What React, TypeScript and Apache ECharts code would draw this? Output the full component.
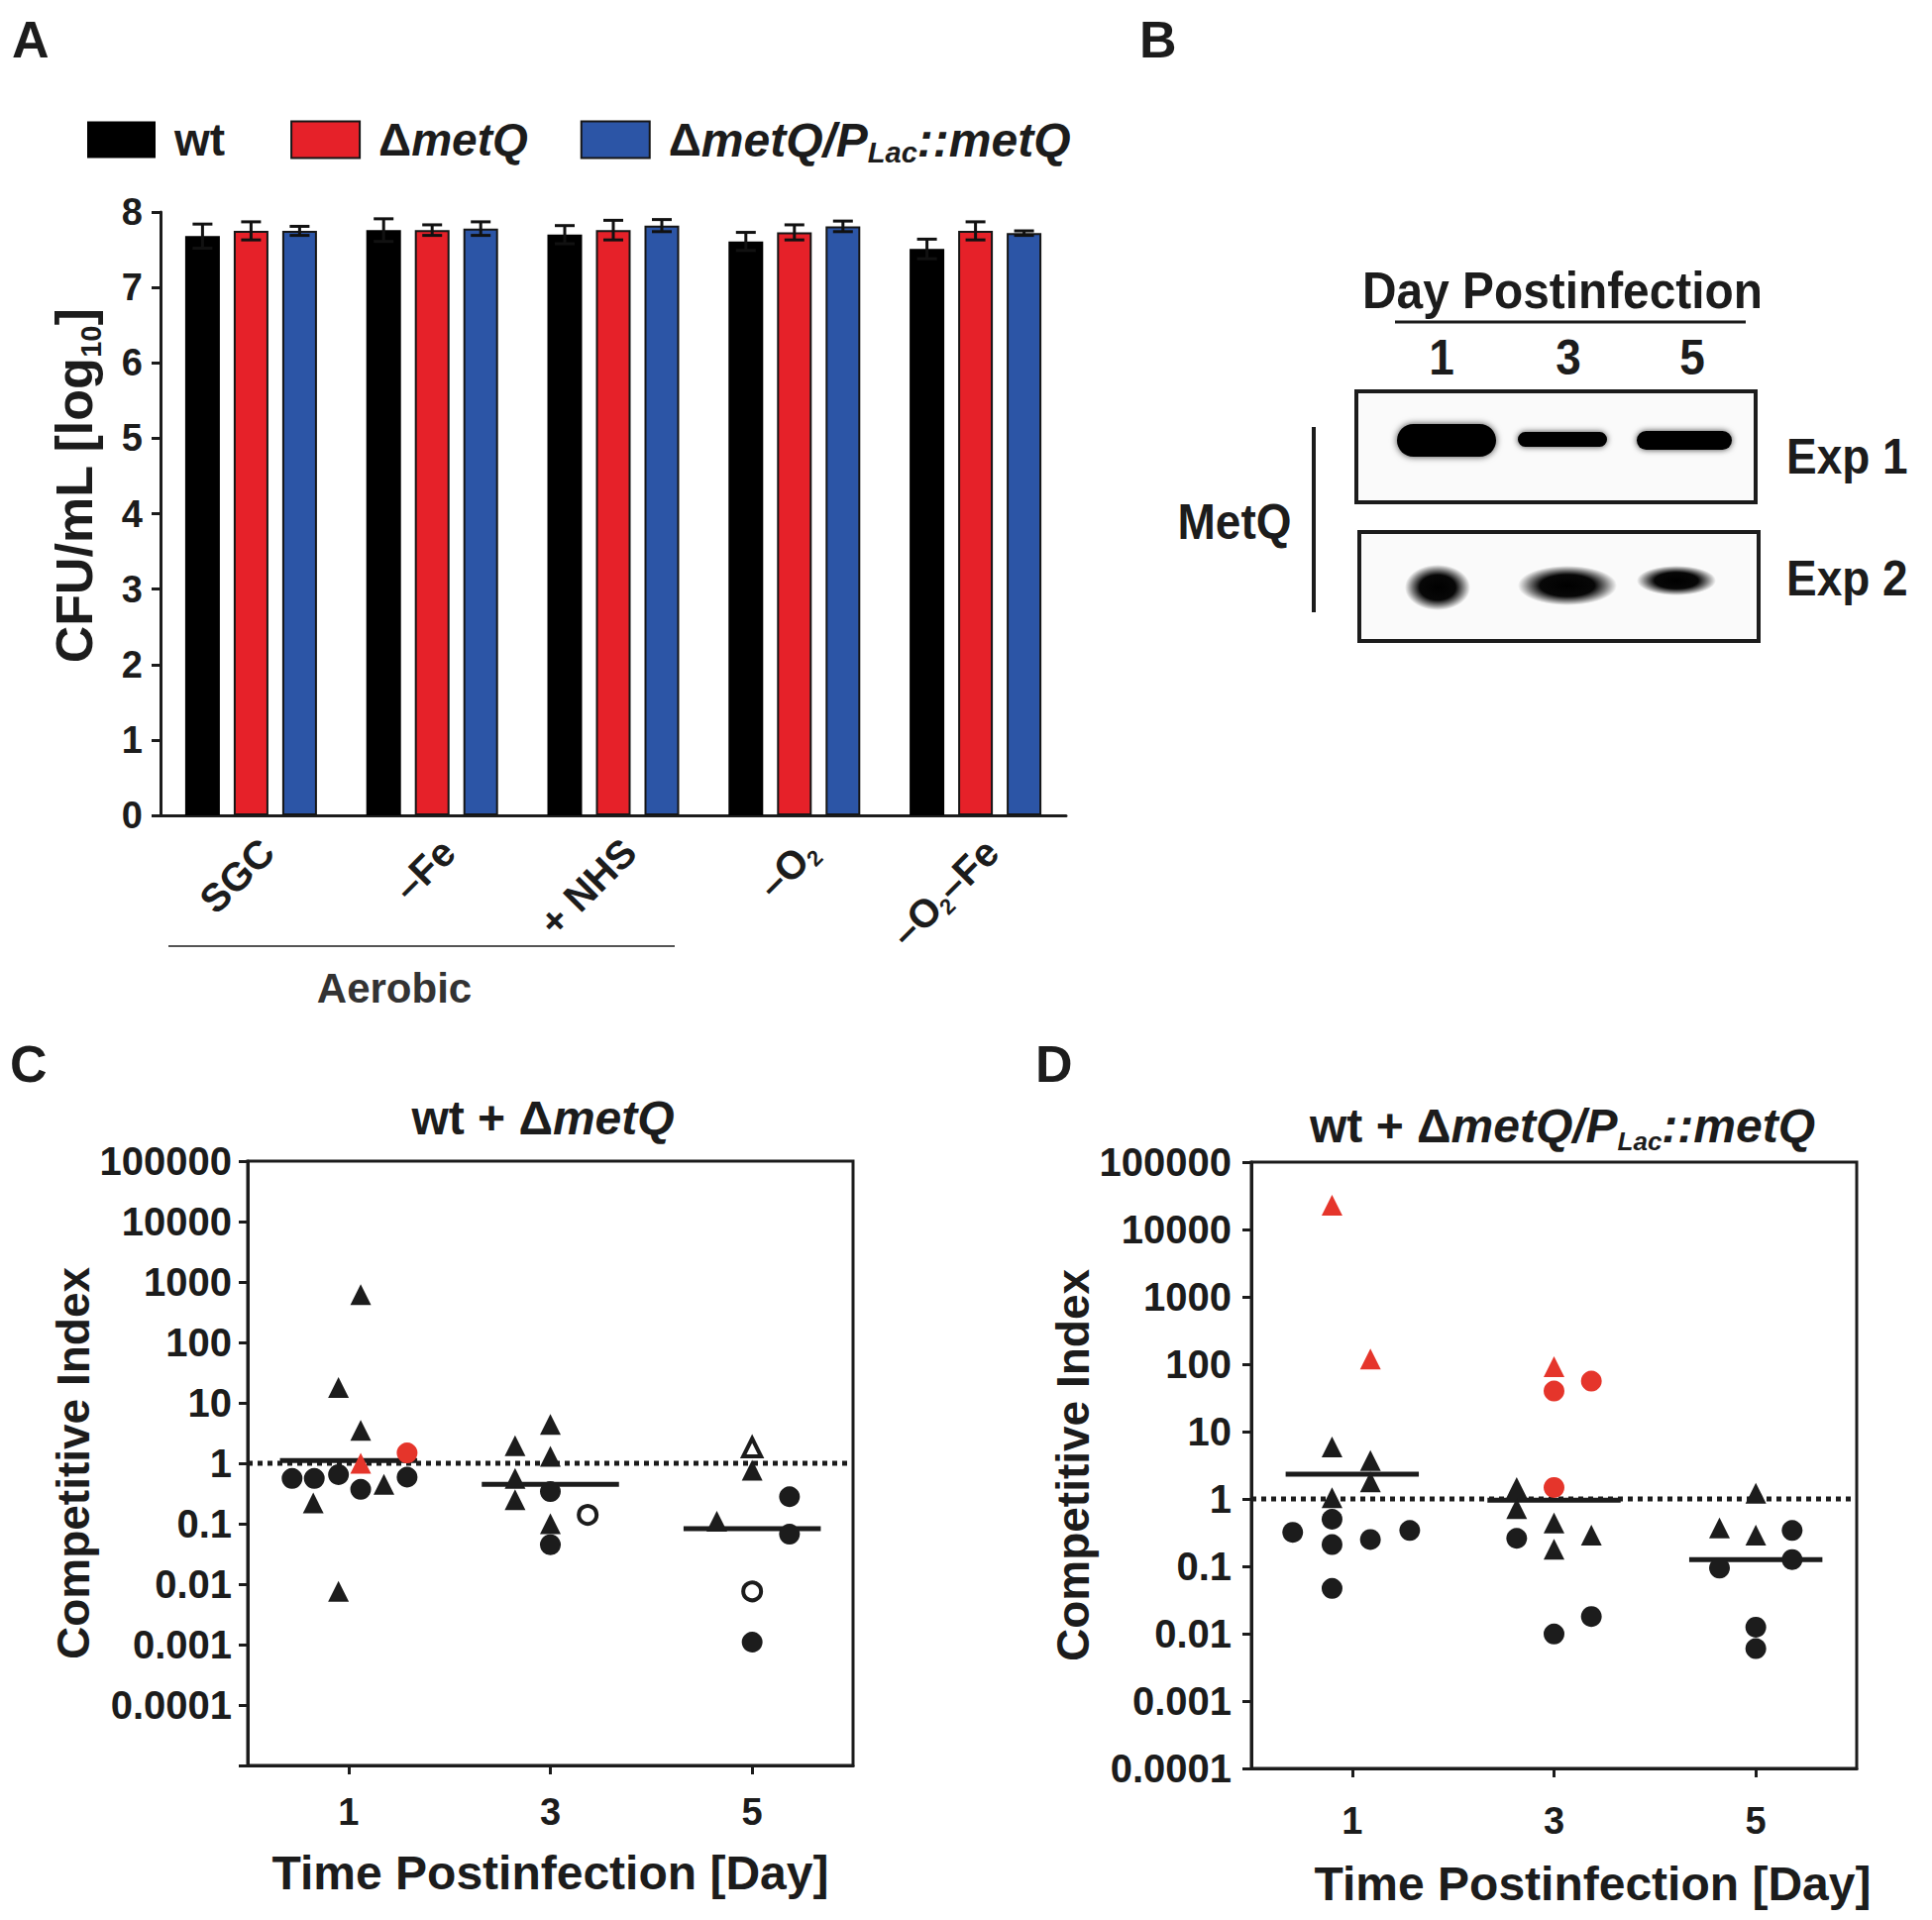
import React, { useEffect, useRef } from 'react';
import * as echarts from 'echarts';

const FONT = '"Liberation Sans", Arial, Helvetica, sans-serif';
const INK = '#1c1c1c';
const RED = '#e62129';
const BLUE = '#2c55a6';
const PT_RED = '#e5352b';

// ---------- Panel A data ----------
const conditions = ['SGC', '–Fe', '+ NHS', '–O2', '–O2–Fe'];
const strains = ['wt', 'ΔmetQ', 'ΔmetQ/PLac::metQ'];
const wtMean = [7.68, 7.76, 7.70, 7.61, 7.51];
const wtSd = [0.16, 0.15, 0.12, 0.12, 0.13];
const metQMean = [7.75, 7.76, 7.76, 7.73, 7.75];
const metQSd = [0.12, 0.07, 0.13, 0.10, 0.12];
const compMean = [7.75, 7.78, 7.82, 7.81, 7.72];
const compSd = [0.06, 0.09, 0.08, 0.07, 0.03];
const cfuMin = 0;
const cfuMax = 8;
const cfuStep = 1;
const groupLabel = 'Aerobic';

// ---------- Panel B labels ----------
const blotDays = ['1', '3', '5'];
const blotRows = ['Exp 1', 'Exp 2'];

// ---------- Panels C & D data ----------
const days = [1, 3, 5];
const ciMax = 100000;
const cMin = 0.00001;
const dMin = 0.0001;
const ciNeutral = 1;

const cBlackCircles = [[0.44, 0.56], [0.66, 0.56], [0.9, 0.65], [1.12, 0.37], [1.58, 0.59], [3.0, 0.34], [3.0, 0.045], [5.37, 0.28], [5.37, 0.067], [5.0, 0.0011]];
const cBlackTriangles = [[0.65, 0.22], [0.9, 18], [0.9, 0.0076], [1.12, 617], [1.12, 3.5], [1.35, 0.45], [2.65, 1.96], [2.65, 0.56], [2.65, 0.25], [3.0, 4.4], [3.0, 1.3], [3.0, 0.1], [5.0, 0.77], [4.65, 0.11]];
const cRedCircles = [[1.58, 1.48]];
const cRedTriangles = [[1.12, 1.0]];
const cOpenCircles = [[3.37, 0.14], [5.0, 0.0076]];
const cOpenTriangles = [[5.0, 1.83]];
const cMedians = [1.11, 0.45, 0.083];

const dBlackCircles = [[0.41, 0.32], [0.8, 0.5], [0.8, 0.21], [0.8, 0.047], [1.18, 0.25], [1.57, 0.34], [2.63, 0.26], [3.0, 0.0099], [3.37, 0.018], [5.36, 0.34], [4.64, 0.094], [5.36, 0.126], [5.0, 0.0125], [5.0, 0.006]];
const dBlackTriangles = [[0.8, 5.9], [1.18, 3.7], [1.18, 1.8], [0.8, 1.04], [2.63, 1.48], [2.63, 0.72], [3.0, 0.44], [3.0, 0.18], [3.37, 0.29], [5.0, 1.22], [4.64, 0.37], [5.0, 0.29]];
const dRedCircles = [[3.0, 40], [3.37, 56], [3.0, 1.48]];
const dRedTriangles = [[0.8, 22900], [1.18, 119], [3.0, 92]];
const dMedians = [2.33, 0.96, 0.126];

const ciTitle = 'Competitive Index';
const dayTitle = 'Time Postinfection [Day]';

// ---------- helpers ----------
const rich = (size: number, subRatio = 0.55) => ({
  n: { fontSize: size, fontWeight: 'bold', fontFamily: FONT, color: INK, fill: INK, lineHeight: Math.round(size * 1.2) },
  w: { fontSize: size, fontWeight: 'bold', fontFamily: FONT, color: INK, fill: INK, lineHeight: Math.round(size * 1.2), padding: [0, 13, 0, 0] },
  i: { fontSize: size, fontWeight: 'bold', fontStyle: 'italic', fontFamily: FONT, color: INK, fill: INK, lineHeight: Math.round(size * 1.2) },
  j: { fontSize: size + 2, fontWeight: 'bold', fontStyle: 'italic', fontFamily: FONT, color: INK, fill: INK, lineHeight: Math.round(size * 1.2) },
  s: { fontSize: Math.round(size * subRatio), fontWeight: 'bold', fontStyle: 'italic', fontFamily: FONT, color: INK, fill: INK, lineHeight: Math.round(size * 0.28), verticalAlign: 'bottom' },
  u: { fontSize: Math.round(size * 0.55), fontWeight: 'bold', fontFamily: FONT, color: INK, fill: INK, lineHeight: Math.round(size * 0.28), verticalAlign: 'bottom' },
});

const legendText: Record<string, string> = {
  'wt': '{w|wt}',
  'ΔmetQ': '{n|Δ}{i|metQ}',
  'ΔmetQ/PLac::metQ': '{n|Δ}{j|metQ/P}{s|Lac}{j|::metQ}',
};

const logLabel = (v: number) => {
  const e = Math.round(Math.log10(v));
  if (e < -4) return '';
  return e >= 0 ? String(Math.round(Math.pow(10, e))) : Math.pow(10, e).toFixed(-e);
};

const BAR_W = 35;
const BAR_GAP = 14;

function buildOption() {
  const means = [wtMean, metQMean, compMean];
  const sds = [wtSd, metQSd, compSd];
  const colors = ['#000000', RED, BLUE];

  const barSeries = strains.map((s, k) => ({
    type: 'bar',
    name: s,
    xAxisIndex: 0,
    yAxisIndex: 0,
    data: means[k],
    barWidth: BAR_W,
    barGap: Math.round((BAR_GAP / BAR_W) * 100) + '%',
    itemStyle: { color: colors[k], borderColor: '#161616', borderWidth: k === 0 ? 0 : 2 },
    z: 2,
  }));

  const errSeries = strains.map((s, k) => ({
    type: 'custom',
    name: s + ' SD',
    xAxisIndex: 0,
    yAxisIndex: 0,
    data: means[k].map((m, i) => [i, m, sds[k][i]]),
    encode: { x: 0, y: 1 },
    z: 3,
    silent: true,
    renderItem: (params: any, api: any) => {
      const i = api.value(0);
      const m = api.value(1);
      const sd = api.value(2);
      const x = api.coord([i, m])[0] + (k - 1) * (BAR_W + BAR_GAP);
      const yT = api.coord([i, m + sd])[1];
      const yB = api.coord([i, m - sd])[1];
      const st = { stroke: '#111', lineWidth: 3 };
      return {
        type: 'group',
        children: [
          { type: 'line', shape: { x1: x, y1: yT, x2: x, y2: yB }, style: st },
          { type: 'line', shape: { x1: x - 10, y1: yT, x2: x + 10, y2: yT }, style: st },
          { type: 'line', shape: { x1: x - 10, y1: yB, x2: x + 10, y2: yB }, style: st },
        ],
      };
    },
  }));

  const sc = (name: string, data: number[][], ax: number, symbol: string, color: string, open = false) => ({
    type: 'scatter',
    name,
    xAxisIndex: ax,
    yAxisIndex: ax,
    data,
    symbol,
    symbolSize: open ? 18 : 21,
    itemStyle: open
      ? { color: '#ffffff', borderColor: INK, borderWidth: 4, opacity: 1 }
      : { color, opacity: 1 },
    z: 6,
    silent: true,
  });

  const neutralLine = (ax: number, name: string) => ({
    type: 'line',
    name,
    xAxisIndex: ax,
    yAxisIndex: ax,
    data: [[0, ciNeutral], [6, ciNeutral]],
    symbol: 'none',
    lineStyle: { color: INK, width: 5, type: [5, 5] },
    z: 3,
    silent: true,
  });

  const medianSeries = (meds: number[], ax: number, half: number, prefix: string) =>
    meds.map((m, k) => ({
      type: 'line',
      name: prefix + ' median ' + days[k],
      xAxisIndex: ax,
      yAxisIndex: ax,
      data: [[days[k] - half, m], [days[k] + half, m]],
      symbol: 'none',
      lineStyle: { color: INK, width: 5 },
      z: 4,
      silent: true,
    }));

  const axisFont = (size: number) => ({ fontSize: size, fontWeight: 'bold', fontFamily: FONT, color: INK });

  const logY = (gi: number, min: number, nameGap: number, labelMargin: number) => ({
    type: 'log',
    gridIndex: gi,
    logBase: 10,
    min,
    max: ciMax,
    interval: 1,
    axisLine: { show: true, onZero: false, lineStyle: { color: INK, width: 3 } },
    axisTick: { show: true, length: 9, lineStyle: { color: INK, width: 3 } },
    axisLabel: { ...axisFont(40), margin: labelMargin, formatter: logLabel },
    splitLine: { show: false },
    minorTick: { show: false },
    name: ciTitle,
    nameLocation: 'middle',
    nameRotate: 90,
    nameGap,
    nameTextStyle: axisFont(46),
  });

  const dayX = (gi: number, nameGap: number, labelMargin: number, pad: number[]) => ({
    type: 'value',
    gridIndex: gi,
    min: 0,
    max: 6,
    axisLine: { show: true, onZero: false, lineStyle: { color: INK, width: 3 } },
    axisTick: { show: true, customValues: days, length: 9, lineStyle: { color: INK, width: 3 } },
    axisLabel: { ...axisFont(38), margin: labelMargin, customValues: days },
    splitLine: { show: false },
    name: dayTitle,
    nameLocation: 'middle',
    nameGap,
    nameTextStyle: { ...axisFont(48), padding: pad },
  });

  const gtext = (text: string, x: number, y: number, size: number, align = 'left', extra: any = {}) => ({
    type: 'text',
    x,
    y,
    scaleX: extra.scaleX ?? 1,
    z: 20,
    style: {
      text,
      x: 0,
      y: 0,
      fontSize: size,
      fontWeight: 'bold',
      fontFamily: FONT,
      fill: extra.fill ?? INK,
      align,
      textAlign: align,
      verticalAlign: 'middle',
      textVerticalAlign: 'middle',
      rich: extra.rich,
    },
  });

  const band = (x: number, y: number, w: number, h: number, blur: number) => ({
    type: 'rect',
    z: 21,
    shape: { x, y, width: w, height: h, r: h / 2 },
    style: { fill: '#050505', shadowBlur: blur, shadowColor: 'rgba(0,0,0,0.75)' },
  });
  const blob = (cx: number, cy: number, rx: number, ry: number) => ({
    type: 'circle',
    z: 21,
    x: cx,
    y: cy,
    scaleY: ry / rx,
    shape: { cx: 0, cy: 0, r: rx },
    style: {
      fill: new echarts.graphic.RadialGradient(0.5, 0.5, 0.5, [
        { offset: 0, color: '#000000' },
        { offset: 0.55, color: '#070707' },
        { offset: 0.8, color: 'rgba(0,0,0,0.45)' },
        { offset: 1, color: 'rgba(0,0,0,0)' },
      ]),
    },
  });

  const BX = 0.92;
  const graphics: any[] = [
    gtext('A', 12, 40, 52),
    gtext('B', 1150, 40, 52),
    gtext('C', 10, 1074, 52),
    gtext('D', 1045, 1074, 52),
    // Panel A group bracket
    { type: 'line', z: 20, shape: { x1: 170, y1: 955, x2: 681, y2: 955 }, style: { stroke: '#555', lineWidth: 2 } },
    gtext(groupLabel, 398, 997, 42, 'center', { fill: '#333' }),
    // Panel C / D titles
    gtext('{n|wt + }{n|Δ}{i|metQ}', 548, 1128, 48, 'center', { rich: rich(48) }),
    gtext('{n|wt + }{n|Δ}{i|metQ/P}{s|Lac}{i|::metQ}', 1577, 1136, 48, 'center', { rich: rich(48) }),
    // Panel B blot
    gtext('Day Postinfection', 1577, 293, 52, 'center', { scaleX: BX }),
    { type: 'line', z: 20, shape: { x1: 1408, y1: 325, x2: 1762, y2: 325 }, style: { stroke: INK, lineWidth: 3 } },
    gtext(blotDays[0], 1455, 361, 50, 'center', { scaleX: BX }),
    gtext(blotDays[1], 1583, 361, 50, 'center', { scaleX: BX }),
    gtext(blotDays[2], 1708, 361, 50, 'center', { scaleX: BX }),
    { type: 'rect', z: 20, shape: { x: 1369, y: 395, width: 403, height: 112 }, style: { fill: '#fafafa', stroke: INK, lineWidth: 4 } },
    { type: 'rect', z: 20, shape: { x: 1372, y: 537, width: 403, height: 110 }, style: { fill: '#fafafa', stroke: INK, lineWidth: 4 } },
    band(1410, 428, 100, 33, 7),
    band(1532, 436, 90, 15, 6),
    band(1652, 435, 96, 19, 6),
    blob(1451, 593, 33, 23),
    blob(1582, 591, 50, 20),
    blob(1692, 586, 40, 15),
    { type: 'line', z: 20, shape: { x1: 1326, y1: 431, x2: 1326, y2: 618 }, style: { stroke: INK, lineWidth: 4 } },
    gtext('MetQ', 1246, 527, 50, 'center', { scaleX: BX }),
    gtext(blotRows[0], 1803, 461, 50, 'left', { scaleX: BX }),
    gtext(blotRows[1], 1803, 584, 50, 'left', { scaleX: BX }),
  ];

  return {
    animation: false,
    backgroundColor: '#ffffff',
    textStyle: { fontFamily: FONT },
    legend: {
      data: strains,
      left: 83,
      top: 112,
      itemWidth: 69,
      itemHeight: 37,
      itemGap: 53,
      icon: 'rect',
      selectedMode: false,
      formatter: (n: string) => legendText[n],
      textStyle: { ...axisFont(46), padding: [0, 0, 0, 14], rich: rich(46, 0.62) },
    },
    grid: [
      { left: 162, top: 214, width: 914, height: 609, show: false },
      { left: 250, top: 1172, width: 611, height: 610, show: true, borderColor: INK, borderWidth: 3 },
      { left: 1263, top: 1173, width: 611, height: 612, show: true, borderColor: INK, borderWidth: 3 },
    ],
    xAxis: [
      {
        type: 'category',
        gridIndex: 0,
        data: conditions,
        axisLine: { show: true, onZero: false, lineStyle: { color: INK, width: 3 } },
        axisTick: { show: false },
        axisLabel: {
          ...axisFont(40),
          rotate: 45,
          margin: 14,
          interval: 0,
          lineHeight: 46,
          verticalAlign: 'top',
          formatter: (v: string) => v.replace(/O2/g, 'O{u|2}'),
          rich: { u: { ...rich(40).u } },
        },
      },
      dayX(1, 84, 28, [0, 0, 0, 0]),
      dayX(2, 92, 34, [0, 0, 0, 78]),
    ],
    yAxis: [
      {
        type: 'value',
        gridIndex: 0,
        min: cfuMin,
        max: cfuMax,
        interval: cfuStep,
        axisLine: { show: true, onZero: false, lineStyle: { color: INK, width: 3 } },
        axisTick: { show: true, length: 9, lineStyle: { color: INK, width: 3 } },
        axisLabel: { ...axisFont(38), margin: 18 },
        splitLine: { show: false },
        name: '{n|CFU/mL [log}{u|10}{n|]}',
        nameLocation: 'middle',
        nameRotate: 90,
        nameGap: 56,
        nameTextStyle: { ...axisFont(52), rich: rich(52), padding: [0, 0, 0, 56] },
      },
      logY(1, cMin, 140, 16),
      logY(2, dMin, 132, 20),
    ],
    series: [
      ...barSeries,
      ...errSeries,
      neutralLine(1, 'C neutral'),
      ...medianSeries(cMedians, 1, 0.68, 'C'),
      sc('C circles', cBlackCircles, 1, 'circle', INK),
      sc('C triangles', cBlackTriangles, 1, 'triangle', INK),
      sc('C open circles', cOpenCircles, 1, 'circle', INK, true),
      sc('C open triangles', cOpenTriangles, 1, 'triangle', INK, true),
      sc('C red circles', cRedCircles, 1, 'circle', PT_RED),
      sc('C red triangles', cRedTriangles, 1, 'triangle', PT_RED),
      neutralLine(2, 'D neutral'),
      ...medianSeries(dMedians, 2, 0.66, 'D'),
      sc('D circles', dBlackCircles, 2, 'circle', INK),
      sc('D triangles', dBlackTriangles, 2, 'triangle', INK),
      sc('D red circles', dRedCircles, 2, 'circle', PT_RED),
      sc('D red triangles', dRedTriangles, 2, 'triangle', PT_RED),
    ],
    graphic: { elements: graphics },
  };
}

export default function App() {
  const ref = useRef<HTMLDivElement>(null);
  useEffect(() => {
    if (!ref.current) return;
    const chart = echarts.init(ref.current, undefined, { renderer: 'svg' });
    chart.setOption(buildOption() as any);
    return () => chart.dispose();
  }, []);
  return (
    <div
      ref={ref}
      style={{ position: 'absolute', left: 0, top: 0, width: 1950, height: 1938, background: '#fff' }}
    />
  );
}
